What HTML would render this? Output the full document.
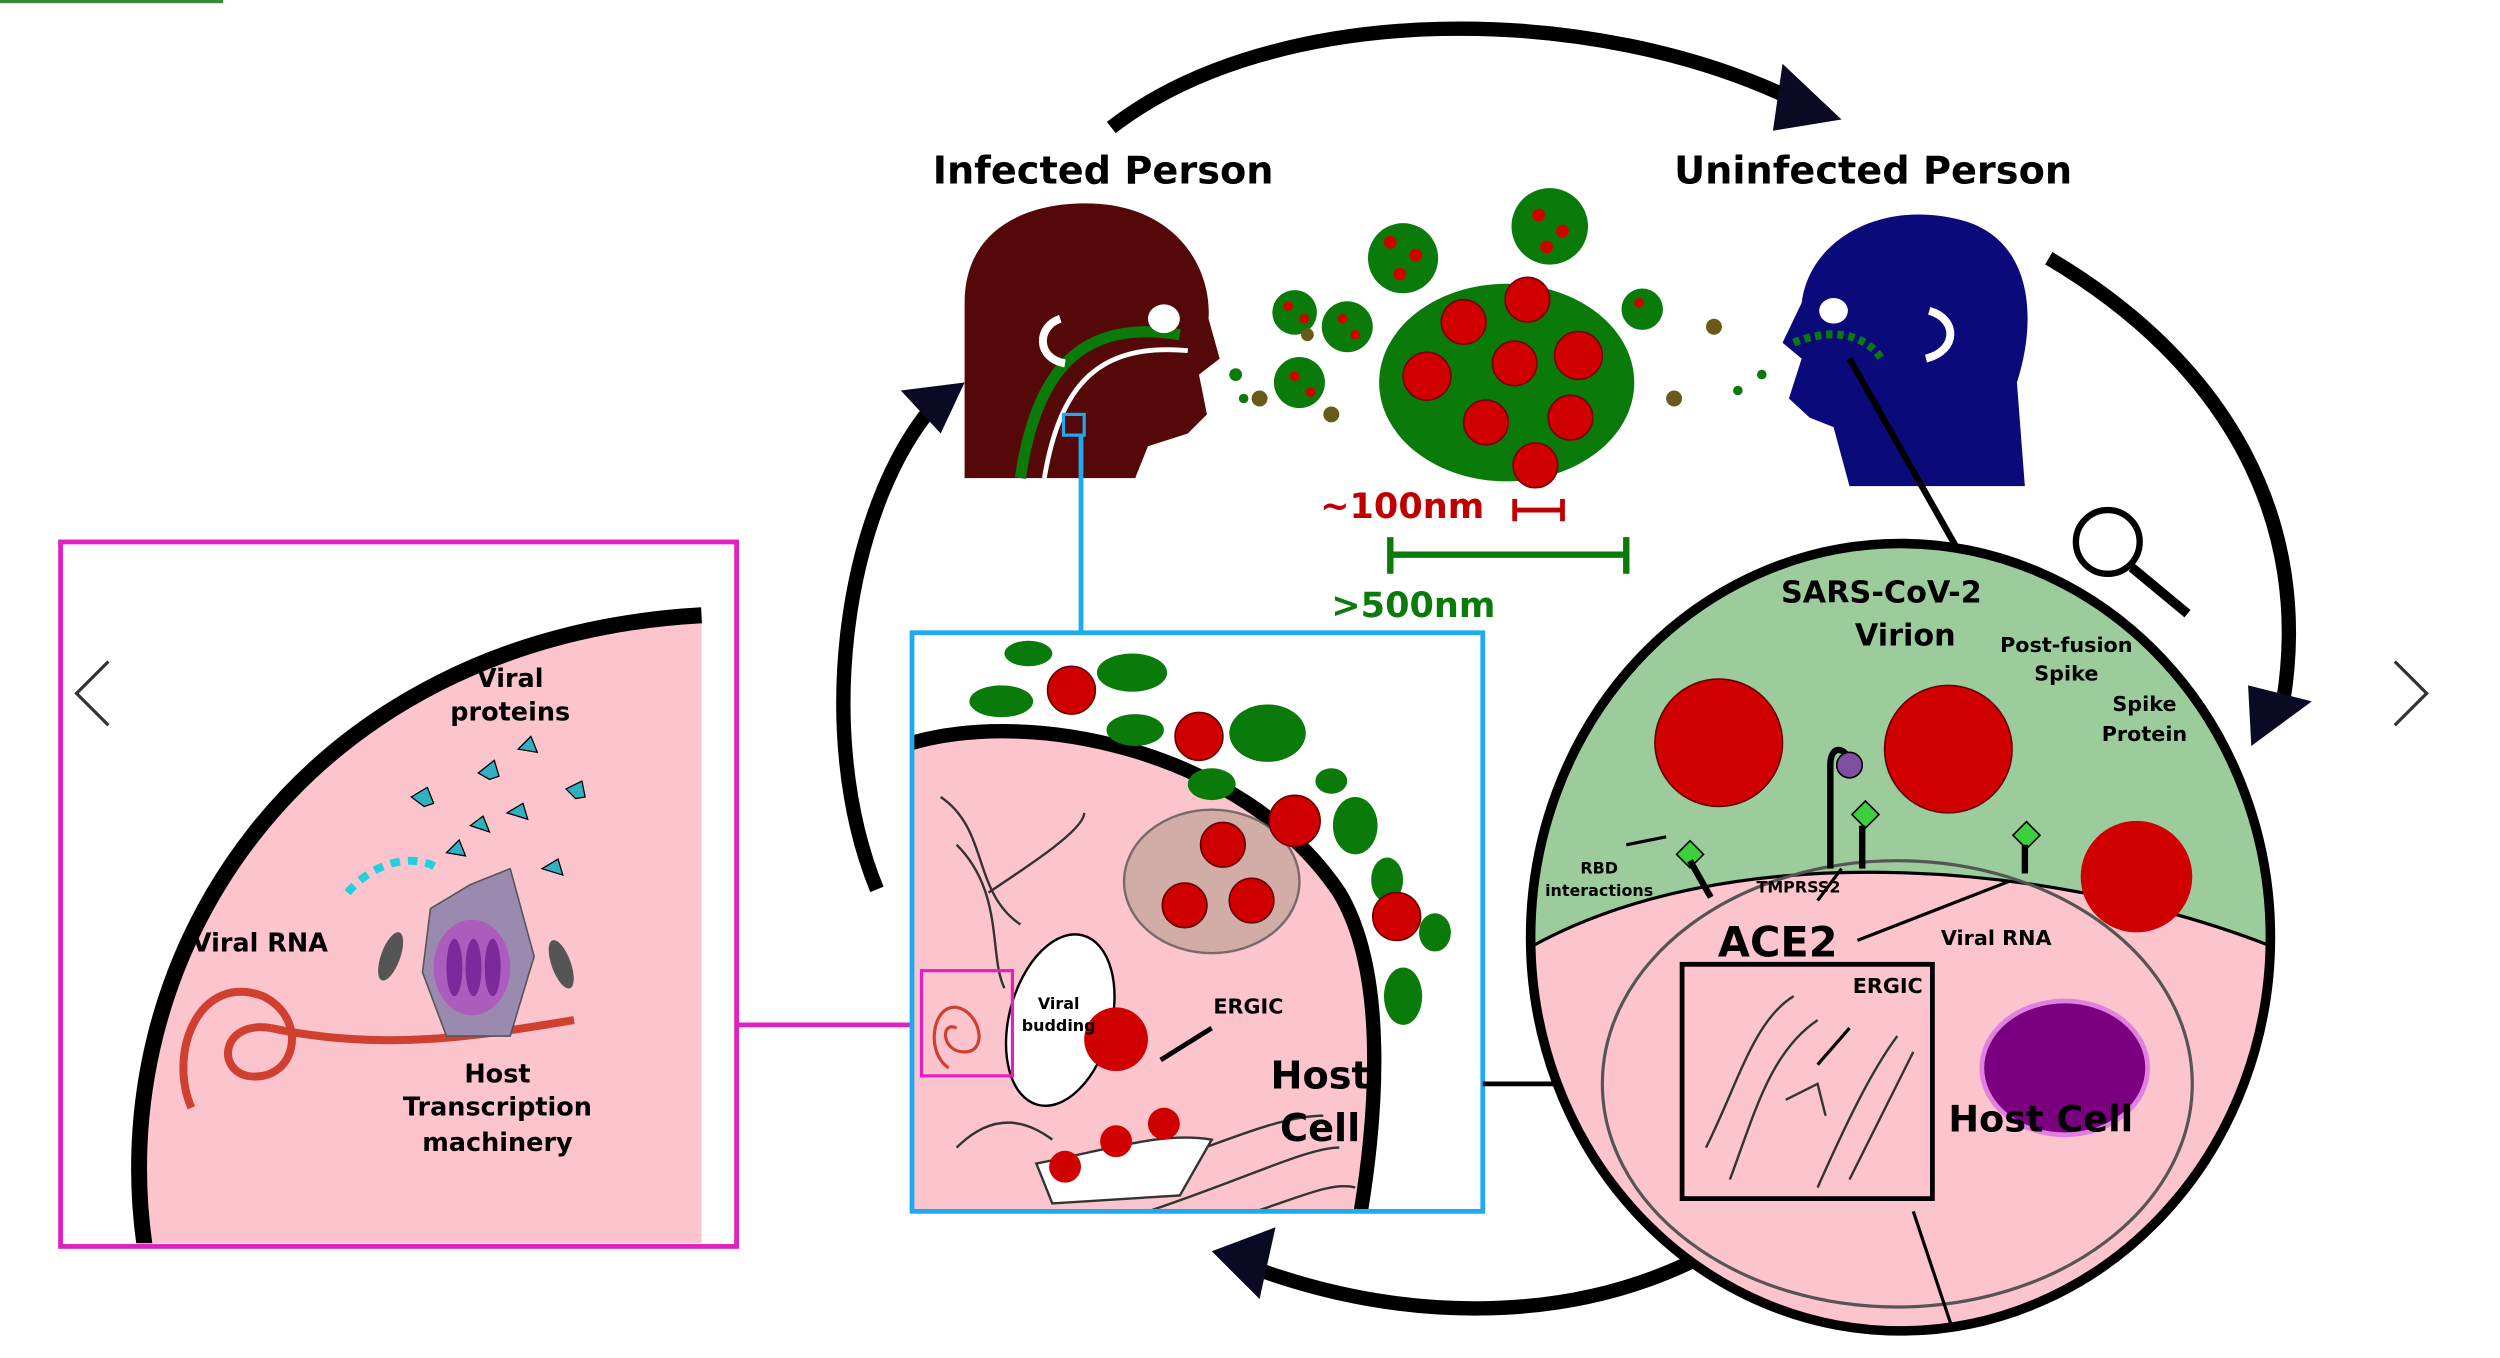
<!DOCTYPE html>
<html><head><meta charset="utf-8"><style>
html,body{margin:0;padding:0;background:#fff;width:2500px;height:1358px;overflow:hidden}
svg{display:block}
text{font-family:"DejaVu Sans","Liberation Sans",sans-serif;font-weight:bold}
</style></head><body>
<svg width="2500" height="1358" viewBox="0 0 1568 852" preserveAspectRatio="none" xmlns="http://www.w3.org/2000/svg">
<defs>
<clipPath id="cm"><rect x="40" y="342" width="420" height="438"/></clipPath>
<clipPath id="cb"><rect x="573" y="398" width="356" height="361"/></clipPath>
<clipPath id="cc"><ellipse cx="1192" cy="588" rx="232" ry="247"/></clipPath>
</defs>
<rect x="0" y="0" width="140" height="2" fill="#3a8a3a"/>

<path d="M697,80 C800,0 1000,0 1130,65" fill="none" stroke="#000" stroke-width="9"/>
<polygon points="1118,40 1155,75 1112,82" fill="#0a0a25"/>
<path d="M1285,162 C1400,230 1450,330 1432,440" fill="none" stroke="#000" stroke-width="9"/>
<polygon points="1410,430 1450,440 1412,468" fill="#0a0a25"/>
<path d="M1060,792 C980,830 880,830 785,795" fill="none" stroke="#000" stroke-width="9"/>
<polygon points="800,770 760,785 790,815" fill="#0a0a25"/>
<path d="M550,558 C510,460 530,320 585,255" fill="none" stroke="#000" stroke-width="9"/>
<polygon points="565,245 605,240 590,272" fill="#0a0a25"/>

<text x="585" y="115" font-size="24">Infected Person</text>
<text x="1050" y="115" font-size="24">Uninfected Person</text>

<path d="M605,300 L605,190 C605,140 650,125 690,128 C740,132 760,170 758,200 L765,225 L752,235 L757,260 L745,272 L720,280 L712,300 Z" fill="#550808"/>
<path d="M640,300 C650,230 680,200 740,210" fill="none" stroke="#0a7a0a" stroke-width="7"/>
<path d="M655,300 C665,240 690,215 745,220" fill="none" stroke="#fff" stroke-width="3"/>
<ellipse cx="730" cy="200" rx="10" ry="9" fill="#fff"/>
<path d="M665,200 C650,205 650,225 668,228" fill="none" stroke="#fff" stroke-width="5"/>
<rect x="667" y="260" width="13" height="13" fill="none" stroke="#1eaaf0" stroke-width="2"/>
<line x1="678" y1="273" x2="678" y2="398" stroke="#1eaaf0" stroke-width="3"/>

<path d="M1270,305 L1265,240 C1278,200 1275,150 1230,138 C1180,125 1135,150 1130,190 L1118,215 L1130,225 L1122,250 L1135,262 L1150,268 L1160,305 Z" fill="#0a0a7a"/>
<path d="M1125,215 C1150,205 1170,210 1180,225" fill="none" stroke="#0a7a0a" stroke-width="5" stroke-dasharray="4 3"/>
<ellipse cx="1150" cy="195" rx="9" ry="8" fill="#fff"/>
<path d="M1210,195 C1228,200 1228,220 1208,225" fill="none" stroke="#fff" stroke-width="5"/>
<line x1="1160" y1="225" x2="1228" y2="345" stroke="#000" stroke-width="4"/>

<ellipse cx="945" cy="240" rx="80" ry="62" fill="#0a7a0a"/>
<g fill="#d00000" stroke="#700" stroke-width="1">
<circle cx="958" cy="188" r="14"/><circle cx="918" cy="202" r="14"/><circle cx="990" cy="223" r="15"/><circle cx="950" cy="228" r="14"/><circle cx="895" cy="236" r="15"/><circle cx="985" cy="262" r="14"/><circle cx="932" cy="265" r="14"/><circle cx="963" cy="292" r="14"/>
</g>
<circle cx="880" cy="162" r="22" fill="#0a7a0a"/><circle cx="972" cy="142" r="24" fill="#0a7a0a"/>
<circle cx="812" cy="196" r="14" fill="#0a7a0a"/><circle cx="845" cy="205" r="16" fill="#0a7a0a"/>
<circle cx="815" cy="240" r="16" fill="#0a7a0a"/><circle cx="1030" cy="194" r="13" fill="#0a7a0a"/>
<g fill="#d00000">
<circle cx="872" cy="152" r="4"/><circle cx="888" cy="160" r="4"/><circle cx="878" cy="172" r="4"/><circle cx="965" cy="135" r="4"/><circle cx="980" cy="145" r="4"/><circle cx="970" cy="155" r="4"/><circle cx="808" cy="192" r="3"/><circle cx="818" cy="200" r="3"/><circle cx="842" cy="200" r="3"/><circle cx="850" cy="210" r="3"/><circle cx="812" cy="236" r="3"/><circle cx="822" cy="246" r="3"/><circle cx="1028" cy="190" r="3"/>
</g>
<g fill="#6a5a1a"><circle cx="790" cy="250" r="5"/><circle cx="835" cy="260" r="5"/><circle cx="1050" cy="250" r="5"/><circle cx="1075" cy="205" r="5"/><circle cx="820" cy="210" r="4"/></g>
<g fill="#0a7a0a"><circle cx="775" cy="235" r="4"/><circle cx="780" cy="250" r="3"/><circle cx="1090" cy="245" r="3"/><circle cx="1105" cy="235" r="3"/></g>

<text x="828" y="325" font-size="22" fill="#c00000" font-weight="normal">~100nm</text>
<path d="M950,313 V327 M950,320 H980 M980,313 V327" stroke="#c00000" stroke-width="3" fill="none"/>
<path d="M872,337 V360 M872,348 H1020 M1020,337 V360" stroke="#0a7a0a" stroke-width="4" fill="none"/>
<text x="835" y="387" font-size="22" fill="#0a7a0a" font-weight="normal">&gt;500nm</text>

<rect x="38" y="340" width="424" height="442" fill="#fff" stroke="#e020c0" stroke-width="3"/>
<g clip-path="url(#cm)">
<path d="M92,790 C60,600 190,400 440,386 L440,780 Z" fill="#fcc4cc"/>
<path d="M92,790 C60,600 190,400 440,386" fill="none" stroke="#000" stroke-width="10"/>
<path d="M170,645 C240,660 300,650 360,640" fill="none" stroke="#d04030" stroke-width="5"/>
<path d="M170,645 C140,640 135,670 155,675 C185,680 195,640 165,625 C125,610 105,660 120,695" fill="none" stroke="#d04030" stroke-width="5"/>
<path d="M270,570 L295,555 L320,545 L335,600 L320,650 L280,650 L265,610 Z" fill="#9a8ab0" stroke="#555" stroke-width="1"/>
<ellipse cx="296" cy="607" rx="24" ry="30" fill="#b050c0" opacity="0.8"/>
<g fill="#7a2a9a"><ellipse cx="285" cy="607" rx="5" ry="18"/><ellipse cx="297" cy="607" rx="5" ry="18"/><ellipse cx="309" cy="607" rx="5" ry="18"/></g>
<ellipse cx="245" cy="600" rx="6" ry="16" fill="#555" transform="rotate(20 245 600)"/>
<ellipse cx="352" cy="605" rx="6" ry="16" fill="#555" transform="rotate(-20 352 605)"/>
<path d="M218,560 C235,540 260,535 275,545" fill="none" stroke="#20d0e0" stroke-width="5" stroke-dasharray="6 5"/>
<g fill="#30b0c0" stroke="#000" stroke-width="0.8">
<path d="M258,500 l10,-6 l4,10 l-6,2 z"/><path d="M300,485 l10,-8 l3,10 l-6,2 z"/><path d="M325,470 l8,-8 l4,10 z"/><path d="M355,495 l10,-5 l2,10 l-6,1 z"/><path d="M318,510 l10,-6 l3,10 z"/><path d="M280,535 l8,-8 l4,10 z"/><path d="M340,545 l10,-6 l3,10 z"/><path d="M295,518 l8,-6 l4,10 z"/>
</g>
</g>
<text x="320" y="431" font-size="16" text-anchor="middle">Viral</text>
<text x="320" y="452" font-size="16" text-anchor="middle">proteins</text>
<text x="163" y="597" font-size="16" text-anchor="middle">Viral RNA</text>
<text x="312" y="679" font-size="16" text-anchor="middle">Host</text>
<text x="312" y="700" font-size="16" text-anchor="middle">Transcription</text>
<text x="312" y="722" font-size="16" text-anchor="middle">machinery</text>
<line x1="462" y1="643" x2="578" y2="643" stroke="#e020c0" stroke-width="3"/>

<rect x="572" y="397" width="358" height="363" fill="#fff"/>
<g clip-path="url(#cb)">
<path d="M560,470 C640,440 780,470 840,560 C870,610 865,700 850,780 L560,780 Z" fill="#fcc4cc" stroke="#000" stroke-width="9"/>
<g fill="#0a7a0a">
<ellipse cx="628" cy="440" rx="20" ry="10"/><ellipse cx="710" cy="422" rx="22" ry="12"/><ellipse cx="712" cy="458" rx="18" ry="10"/><ellipse cx="795" cy="460" rx="24" ry="18"/><ellipse cx="645" cy="410" rx="15" ry="8"/><ellipse cx="850" cy="518" rx="14" ry="18"/><ellipse cx="870" cy="552" rx="10" ry="14"/><ellipse cx="900" cy="585" rx="10" ry="12"/><ellipse cx="880" cy="625" rx="12" ry="18"/><ellipse cx="760" cy="492" rx="15" ry="10"/><ellipse cx="835" cy="490" rx="10" ry="8"/>
</g>
<ellipse cx="760" cy="553" rx="55" ry="45" fill="#c8a8a0" stroke="#555" stroke-width="1.5" opacity="0.8"/>
<g fill="#d00000" stroke="#600"><circle cx="672" cy="433" r="15"/><circle cx="752" cy="462" r="15"/><circle cx="812" cy="515" r="16"/><circle cx="767" cy="530" r="14"/><circle cx="743" cy="568" r="14"/><circle cx="785" cy="565" r="14"/><circle cx="876" cy="575" r="15"/></g>
<ellipse cx="665" cy="640" rx="32" ry="55" fill="#fff" stroke="#000" stroke-width="1.5" transform="rotate(15 665 640)"/>
<circle cx="700" cy="652" r="20" fill="#d00000"/>
<g fill="none" stroke="#333" stroke-width="1.5">
<path d="M590,500 C620,520 610,560 640,580"/><path d="M600,530 C630,560 620,600 630,620"/><path d="M620,560 C650,540 680,520 680,510"/><path d="M600,720 C620,700 640,700 660,715"/><path d="M700,740 C760,720 800,700 830,700"/><path d="M720,760 C780,740 820,720 840,720"/><path d="M750,770 C800,760 830,740 850,745"/><path d="M650,730 C700,720 730,710 760,715 L740,750 L660,755 Z" fill="#fff"/>
</g>
<g fill="#d00000"><circle cx="668" cy="732" r="10"/><circle cx="700" cy="716" r="10"/><circle cx="730" cy="705" r="10"/></g>
</g>
<rect x="572" y="397" width="358" height="363" fill="none" stroke="#1eaaf0" stroke-width="3"/>
<rect x="578" y="609" width="57" height="66" fill="none" stroke="#e020c0" stroke-width="2"/>
<path d="M600,645 C590,640 590,660 605,660 C620,660 615,635 600,632 C585,630 580,660 595,670" fill="none" stroke="#d04030" stroke-width="2"/>
<text x="664" y="633" font-size="10" text-anchor="middle">Viral</text>
<text x="664" y="647" font-size="10" text-anchor="middle">budding</text>
<text x="783" y="636" font-size="13" text-anchor="middle">ERGIC</text>
<line x1="760" y1="645" x2="728" y2="665" stroke="#000" stroke-width="3"/>
<text x="828" y="683" font-size="24" text-anchor="middle">Host</text>
<text x="828" y="716" font-size="24" text-anchor="middle">Cell</text>
<line x1="930" y1="680" x2="1058" y2="680" stroke="#000" stroke-width="3"/>

<g clip-path="url(#cc)">
<rect x="950" y="330" width="490" height="520" fill="#9ccc9c"/>
<path d="M950,600 C1080,520 1300,540 1440,600 L1440,850 L950,850 Z" fill="#fcc4cc" stroke="#000" stroke-width="2"/>
<ellipse cx="1190" cy="680" rx="185" ry="140" fill="none" stroke="#555" stroke-width="2"/>
<path d="M1200,760 L1230,850" stroke="#000" stroke-width="2"/>
</g>
<ellipse cx="1192" cy="588" rx="232" ry="247" fill="none" stroke="#000" stroke-width="6"/>
<circle cx="1078" cy="466" r="40" fill="#d00000" stroke="#600"/>
<circle cx="1222" cy="470" r="40" fill="#d00000" stroke="#600"/>
<circle cx="1340" cy="550" r="35" fill="#d00000"/>
<ellipse cx="1295" cy="670" rx="52" ry="42" fill="#7a0080" stroke="#e080e0" stroke-width="3"/>
<rect x="1055" y="605" width="157" height="147" fill="none" stroke="#000" stroke-width="3"/>
<g fill="none" stroke="#333" stroke-width="1.5"><path d="M1070,720 C1090,680 1100,640 1125,625"/><path d="M1085,740 C1100,700 1110,660 1140,640"/><path d="M1120,690 L1140,680 L1145,700"/><path d="M1140,745 C1160,700 1175,670 1190,650"/><path d="M1160,740 C1180,700 1190,680 1200,660"/></g>
<g fill="#3dd03d" stroke="#000"><rect x="1054" y="530" width="12" height="12" transform="rotate(45 1060 536)"/><rect x="1164" y="505" width="12" height="12" transform="rotate(45 1170 511)"/><rect x="1265" y="518" width="12" height="12" transform="rotate(45 1271 524)"/></g>
<path d="M1073,563 L1060,540 M1168,545 V518 M1270,548 V530 M1148,545 V480 C1148,465 1160,470 1160,480" stroke="#000" stroke-width="4" fill="none"/>
<circle cx="1160" cy="480" r="8" fill="#8050a0" stroke="#000"/>
<text x="1180" y="378" font-size="19" text-anchor="middle">SARS-CoV-2</text>
<text x="1195" y="405" font-size="19" text-anchor="middle">Virion</text>
<text x="1296" y="409" font-size="13" text-anchor="middle">Post-fusion</text>
<text x="1296" y="427" font-size="13" text-anchor="middle">Spike</text>
<text x="1345" y="446" font-size="13" text-anchor="middle">Spike</text>
<text x="1345" y="465" font-size="13" text-anchor="middle">Protein</text>
<text x="1003" y="548" font-size="10" text-anchor="middle">RBD</text>
<text x="1003" y="562" font-size="10" text-anchor="middle">interactions</text>
<text x="1128" y="560" font-size="10" text-anchor="middle">TMPRSS2</text>
<text x="1115" y="600" font-size="26" text-anchor="middle">ACE2</text>
<text x="1252" y="593" font-size="13" text-anchor="middle">Viral RNA</text>
<text x="1184" y="623" font-size="13" text-anchor="middle">ERGIC</text>
<text x="1280" y="710" font-size="23" text-anchor="middle">Host Cell</text>
<path d="M1020,530 L1045,525 M1165,590 L1260,553 M1155,545 L1140,565 M1160,645 L1140,668" stroke="#000" stroke-width="2"/>
<circle cx="1322" cy="340" r="20" fill="#fff" stroke="#000" stroke-width="4"/>
<line x1="1337" y1="356" x2="1372" y2="385" stroke="#000" stroke-width="6"/>
<path d="M68,415 L48,435 L68,455" fill="none" stroke="#333" stroke-width="2"/>
<path d="M1502,415 L1522,435 L1502,455" fill="none" stroke="#333" stroke-width="2"/>
</svg>
</body></html>
